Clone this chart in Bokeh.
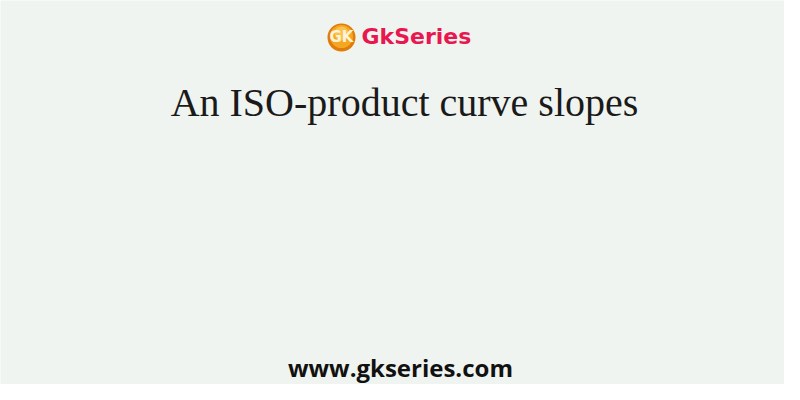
from bokeh.plotting import figure
from bokeh.models import Range1d
from bokeh.core.properties import value
from bokeh.embed import file_html
from bokeh.resources import INLINE

# texts of the card
logo_text = ["GkSeries"]
title_text = ["An ISO-product curve slopes"]
footer_text = ["www.gkseries.com"]

BG = "#f0f4f0"

# one data unit = one screen pixel, y pointing down like the card
p = figure(width=784, height=384, output_backend="svg", toolbar_location=None,
           x_range=Range1d(0, 784), y_range=Range1d(384, 0),
           background_fill_color=BG, border_fill_color=BG,
           min_border=0, outline_line_color=None)
p.axis.visible = False
p.grid.visible = False

# logo badge
p.circle(x=[341], y=[37], radius=14, fill_color="#e07d0a", line_color=None)
p.circle(x=[341], y=[36], radius=11.5, fill_color="#f5a623", line_color=None)
p.circle(x=[341], y=[33], radius=7, fill_color="#fbc95a", line_color=None, fill_alpha=0.8)
p.text(x=[341], y=[36], text=["GK"], text_font=value("DejaVu Sans"),
       text_font_size="15px", text_font_style="bold", text_color="#fff3d6",
       text_align="center", text_baseline="middle")

# svg text lands ~8px below the requested baseline, hence the offsets
p.text(x=[361], y=[36], text=logo_text, text_font=value("DejaVu Sans"),
       text_font_size="22px", text_font_style="bold", text_color="#e8174f",
       text_align="left", text_baseline="alphabetic")

p.text(x=[404], y=[102], text=title_text, text_font=value("Liberation Serif"),
       text_font_size="40px", text_color="#1a1a1a",
       text_align="center", text_baseline="alphabetic")

p.text(x=[400], y=[367], text=footer_text, text_font=value("Open Sans"),
       text_font_size="24px", text_font_style="bold", text_color="#111111",
       text_align="center", text_baseline="alphabetic")

open("out.html", "w").write(file_html(p, INLINE))
